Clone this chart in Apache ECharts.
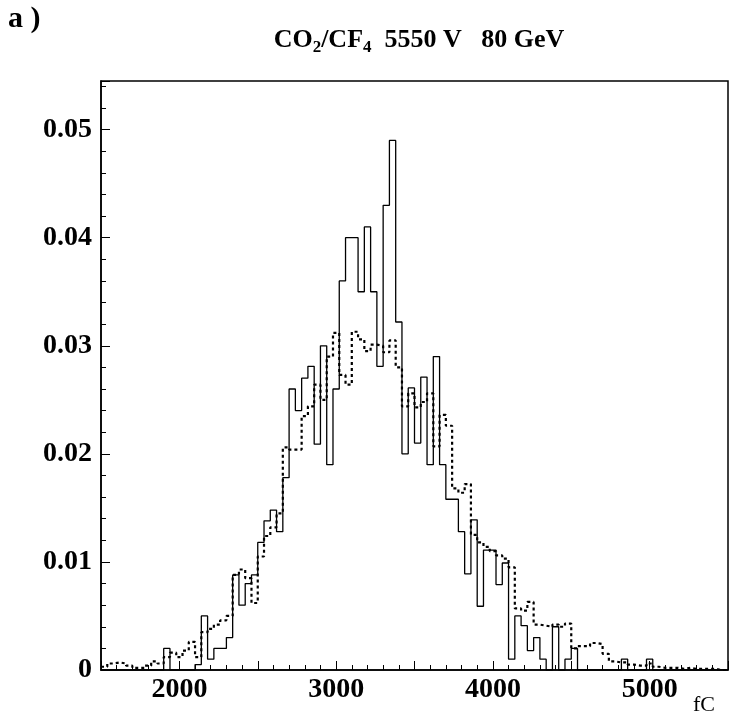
<!DOCTYPE html>
<html>
<head>
<meta charset="utf-8">
<script src="https://cdn.jsdelivr.net/npm/echarts@6/dist/echarts.min.js"></script>
<style>
html,body{margin:0;padding:0;background:#fff;}
#chart{width:744px;height:719px;}
</style>
</head>
<body>
<div id="chart"></div>
<script>
// Histogram binning (fC)
const BIN_START = 1500;
const BIN_WIDTH = 40;

// Solid histogram values, one per 40 fC bin starting at 1500 fC
const solidValues = [
  0, 0, 0, 0, 0, 0, 0, 0, 0, 0,                       // 1500-1860
  0.002, 0, 0, 0, 0, 0.0005, 0.005, 0.001, 0.002, 0.002, // 1900-2260
  0.003, 0.0088, 0.006, 0.008, 0.0088, 0.0118, 0.0138, 0.0148, 0.0128, 0.0178, // 2300-2660
  0.026, 0.024, 0.027, 0.0281, 0.0209, 0.030, 0.019, 0.026, 0.036, 0.040,      // 2700-3060
  0.040, 0.035, 0.041, 0.035, 0.0281, 0.043, 0.049, 0.0322, 0.020, 0.0261,    // 3100-3460
  0.021, 0.0271, 0.019, 0.029, 0.019, 0.0158, 0.0158, 0.0128, 0.0089, 0.0139, // 3500-3860
  0.0059, 0.0111, 0.0111, 0.0079, 0.0099, 0.001, 0.005, 0.0041, 0.0018, 0.003, // 3900-4260
  0.001, 0, 0.004, 0, 0.001, 0.002, 0, 0, 0, 0,        // 4300-4660
  0, 0, 0, 0.001, 0, 0, 0, 0.001, 0, 0,                // 4700-5060
  0, 0, 0, 0, 0, 0, 0, 0, 0, 0                          // 5100-5460
];

// Dashed histogram values, same binning
const dashedValues = [
  0.0003, 0.0006, 0.0007, 0.0006, 0.0004, 0.0002, 0.0002, 0.0004, 0.0008, 0.0006, // 1500-1860
  0.0012, 0.0016, 0.0012, 0.0018, 0.0026, 0.0012, 0.0035, 0.0038, 0.0042, 0.0046, // 1900-2260
  0.005, 0.0088, 0.0093, 0.0085, 0.0062, 0.0105, 0.0124, 0.0132, 0.0145, 0.0206,  // 2300-2660
  0.0204, 0.0204, 0.0235, 0.0244, 0.0264, 0.025, 0.029, 0.0312, 0.0273, 0.0264,   // 2700-3060
  0.0313, 0.0306, 0.0295, 0.0301, 0.030, 0.0294, 0.0305, 0.028, 0.0244, 0.0256,   // 3100-3460
  0.0243, 0.0248, 0.0256, 0.0207, 0.0236, 0.0226, 0.0168, 0.0164, 0.0172, 0.0125, // 3500-3860
  0.0118, 0.0114, 0.011, 0.0106, 0.0103, 0.0095, 0.0057, 0.0055, 0.0063, 0.0042,  // 3900-4260
  0.0041, 0.004, 0.0042, 0.004, 0.0043, 0.002, 0.0022, 0.0022, 0.0025, 0.0024,    // 4300-4660
  0.0015, 0.0008, 0.0007, 0.0007, 0.0005, 0.0004, 0.0004, 0.0006, 0.0003, 0.0002, // 4700-5060
  0.0002, 0.0002, 0.0001, 0.0002, 0.0001, 0.0001, 0.0001, 0.0001, 0, 0            // 5100-5460
];

const xRange = [1500, 5500];
const yRange = [0, 0.0545];
const xLabelValues = [2000, 3000, 4000, 5000];
const yLabelValues = [0, 0.01, 0.02, 0.03, 0.04, 0.05];

function histPoints(vals) {
  const pts = [];
  for (let i = 0; i < vals.length; i++) {
    pts.push([BIN_START + i * BIN_WIDTH, vals[i]]);
  }
  pts.push([BIN_START + vals.length * BIN_WIDTH, vals[vals.length - 1]]);
  return pts;
}

const chart = echarts.init(document.getElementById('chart'), null, {renderer: 'canvas'});
const FONT = '"Liberation Serif", "Times New Roman", serif';

chart.setOption({
  animation: false,
  backgroundColor: '#fff',
  title: {
    text: '{n|CO}{s|2}{n|/CF}{s|4}{n|  5550 V   80 GeV}',
    left: 414, top: 19,
    textAlign: 'center',
    textStyle: {
      rich: {
        n: {fontFamily: FONT, fontWeight: 'bold', fontSize: 26, color: '#000', lineHeight: 32},
        s: {fontFamily: FONT, fontWeight: 'bold', fontSize: 17, color: '#000', lineHeight: 16, verticalAlign: 'bottom'}
      }
    }
  },
  graphic: [
    {type: 'text', left: 8, top: 4, style: {text: 'a )', font: 'bold 30px ' + FONT, fill: '#000'}},
    {type: 'text', left: 693, top: 694, style: {text: 'fC', font: '22px ' + FONT, fill: '#000'}}
  ],
  grid: {left: 101, right: 16, top: 81, bottom: 49, show: true, borderColor: '#000', borderWidth: 1.5, backgroundColor: 'transparent'},
  xAxis: {
    type: 'value', min: xRange[0], max: xRange[1], interval: 500,
    axisLine: {show: true, lineStyle: {color: '#000', width: 1.5}},
    axisTick: {show: true, inside: true, length: 9, lineStyle: {color: '#000', width: 1}},
    minorTick: {show: true, splitNumber: 5, length: 5, lineStyle: {color: '#000', width: 1}},
    splitLine: {show: false},
    axisLabel: {
      margin: 6, color: '#000', fontFamily: FONT, fontWeight: 'bold', fontSize: 28,
      showMinLabel: false, showMaxLabel: false,
      formatter: function (v) { return xLabelValues.indexOf(v) >= 0 ? String(v) : ''; }
    }
  },
  yAxis: {
    type: 'value', min: yRange[0], max: yRange[1], interval: 0.01,
    axisLine: {show: true, lineStyle: {color: '#000', width: 1.5}},
    axisTick: {show: true, inside: true, length: 9, lineStyle: {color: '#000', width: 1}},
    minorTick: {show: true, splitNumber: 5, length: 5, lineStyle: {color: '#000', width: 1}},
    splitLine: {show: false},
    axisLabel: {
      margin: 9, color: '#000', fontFamily: FONT, fontWeight: 'bold', fontSize: 28,
      formatter: function (v) {
        for (const t of yLabelValues) {
          if (Math.abs(v - t) < 1e-9) return t === 0 ? '0' : t.toFixed(2);
        }
        return '';
      }
    }
  },
  series: [
    {
      type: 'line', step: 'end', data: histPoints(dashedValues), symbol: 'none',
      lineStyle: {color: '#000', width: 2.2, type: [3, 3]}, z: 2
    },
    {
      type: 'line', step: 'end', data: histPoints(solidValues), symbol: 'none',
      lineStyle: {color: '#000', width: 1.3, type: 'solid'}, z: 3
    }
  ]
});
</script>
</body>
</html>
